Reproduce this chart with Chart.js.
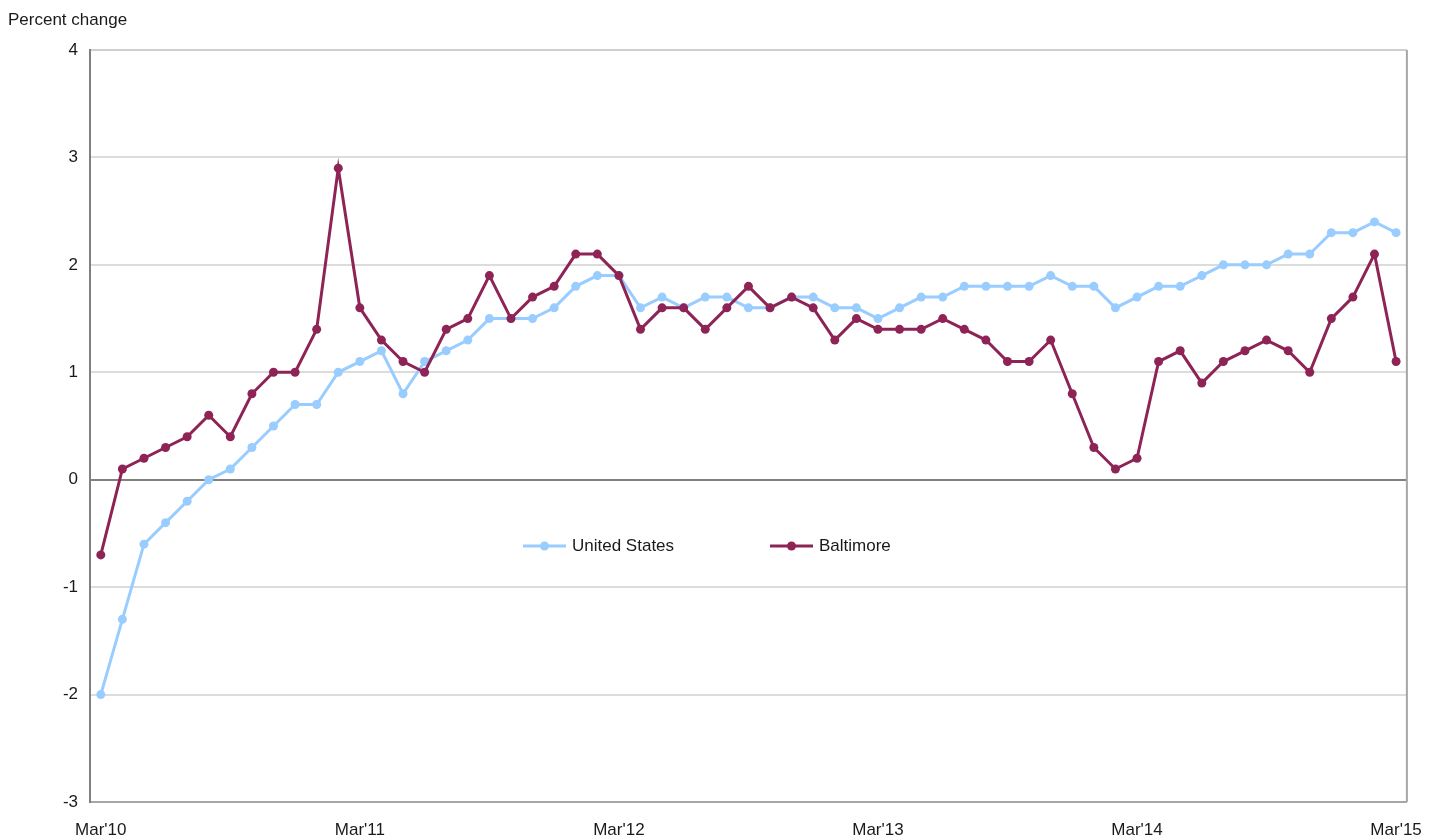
<!DOCTYPE html>
<html lang="en">
<head>
    <meta charset="UTF-8">
    <title>Percent change, United States and Baltimore</title>
    <style>
        body {
            margin: 0;
            background: #ffffff;
        }
        .wrap {
            position: relative;
            width: 1432px;
            height: 839px;
        }
    </style>
</head>
<body>
    <div class="wrap">
        <canvas id="myChart" width="1432" height="839"></canvas>
    </div>

    <script src="https://cdn.jsdelivr.net/npm/chart.js"></script>
    <script>
        // Monthly labels Mar'10 .. Mar'15
        const monthNames = ['Jan', 'Feb', 'Mar', 'Apr', 'May', 'Jun', 'Jul', 'Aug', 'Sep', 'Oct', 'Nov', 'Dec'];
        const months = [];
        for (let i = 0; i <= 60; i++) {
            const m = (2 + i) % 12;
            const y = 10 + Math.floor((2 + i) / 12);
            months.push(monthNames[m] + "'" + y);
        }

        const unitedStates = [
            -2.0, -1.3, -0.6, -0.4, -0.2, 0.0, 0.1, 0.3, 0.5, 0.7, 0.7, 1.0,
            1.1, 1.2, 0.8, 1.1, 1.2, 1.3, 1.5, 1.5, 1.5, 1.6, 1.8, 1.9,
            1.9, 1.6, 1.7, 1.6, 1.7, 1.7, 1.6, 1.6, 1.7, 1.7, 1.6, 1.6,
            1.5, 1.6, 1.7, 1.7, 1.8, 1.8, 1.8, 1.8, 1.9, 1.8, 1.8, 1.6,
            1.7, 1.8, 1.8, 1.9, 2.0, 2.0, 2.0, 2.1, 2.1, 2.3, 2.3, 2.4,
            2.3
        ];

        const baltimore = [
            -0.7, 0.1, 0.2, 0.3, 0.4, 0.6, 0.4, 0.8, 1.0, 1.0, 1.4, 2.9,
            1.6, 1.3, 1.1, 1.0, 1.4, 1.5, 1.9, 1.5, 1.7, 1.8, 2.1, 2.1,
            1.9, 1.4, 1.6, 1.6, 1.4, 1.6, 1.8, 1.6, 1.7, 1.6, 1.3, 1.5,
            1.4, 1.4, 1.4, 1.5, 1.4, 1.3, 1.1, 1.1, 1.3, 0.8, 0.3, 0.1,
            0.2, 1.1, 1.2, 0.9, 1.1, 1.2, 1.3, 1.2, 1.0, 1.5, 1.7, 2.1,
            1.1
        ];

        const yTicks = [-3, -2, -1, 0, 1, 2, 3, 4];

        const usColor = '#99ccff';
        const baltColor = '#8e2456';
        const fontFamily = '"Liberation Sans", Arial, sans-serif';

        // Draws the y title, the plot frame and the in-plot legend
        const extras = {
            id: 'extras',
            afterDraw(chart) {
                const ctx = chart.ctx;
                const area = chart.chartArea;
                ctx.save();

                // right border
                ctx.strokeStyle = '#a6a6a6';
                ctx.lineWidth = 2;
                ctx.beginPath();
                ctx.moveTo(area.right, area.top);
                ctx.lineTo(area.right, area.bottom);
                ctx.stroke();

                ctx.fillStyle = '#1a1a1a';
                ctx.font = '17px ' + fontFamily;
                ctx.textBaseline = 'middle';
                ctx.textAlign = 'left';
                ctx.fillText('Percent change', 8, 20);

                // legend
                const items = [
                    { label: 'United States', color: usColor, x: 523 },
                    { label: 'Baltimore', color: baltColor, x: 770 }
                ];
                const ly = 546;
                items.forEach(it => {
                    ctx.strokeStyle = it.color;
                    ctx.lineWidth = 3;
                    ctx.beginPath();
                    ctx.moveTo(it.x, ly);
                    ctx.lineTo(it.x + 43, ly);
                    ctx.stroke();
                    ctx.fillStyle = it.color;
                    ctx.beginPath();
                    ctx.arc(it.x + 21.5, ly, 4.5, 0, Math.PI * 2);
                    ctx.fill();
                    ctx.fillStyle = '#1a1a1a';
                    ctx.fillText(it.label, it.x + 49, ly);
                });
                ctx.restore();
            }
        };

        const ctx = document.getElementById('myChart').getContext('2d');
        new Chart(ctx, {
            type: 'line',
            data: {
                labels: months,
                datasets: [
                    {
                        label: 'United States',
                        data: unitedStates,
                        order: 1,   // drawn under Baltimore
                        borderColor: usColor,
                        backgroundColor: usColor,
                        borderWidth: 3,
                        pointRadius: 4.5,
                        pointHoverRadius: 4.5,
                        pointBorderWidth: 0,
                        tension: 0
                    },
                    {
                        label: 'Baltimore',
                        data: baltimore,
                        order: 0,
                        borderColor: baltColor,
                        backgroundColor: baltColor,
                        borderWidth: 3,
                        pointRadius: 4.5,
                        pointHoverRadius: 4.5,
                        pointBorderWidth: 0,
                        tension: 0
                    }
                ]
            },
            options: {
                responsive: false,
                animation: false,
                layout: {
                    padding: { left: 0, right: 24, top: 50, bottom: 0 }
                },
                plugins: {
                    legend: { display: false },
                    tooltip: { enabled: false }
                },
                scales: {
                    x: {
                        offset: true,
                        grid: { display: false },
                        border: { display: false },
                        afterFit(scale) { scale.height = 37; },
                        ticks: {
                            autoSkip: false,
                            maxRotation: 0,
                            padding: 10,
                            color: '#1a1a1a',
                            font: { family: fontFamily, size: 17 },
                            callback(value, index) {
                                return index % 12 === 0 ? months[index] : '';
                            }
                        }
                    },
                    y: {
                        min: yTicks[0],
                        max: yTicks[yTicks.length - 1],
                        afterBuildTicks(scale) {
                            scale.ticks = yTicks.map(v => ({ value: v }));
                        },
                        afterFit(scale) { scale.width = 90; },
                        border: { display: true, color: '#808080', width: 2 },
                        grid: {
                            drawTicks: false,
                            lineWidth: 2,
                            color(c) {
                                if (c.tick.value === 0) return '#808080';
                                if (c.tick.value === -3) return '#a6a6a6';
                                if (c.tick.value === 4) return '#cfcfcf';
                                return '#dcdcdc';
                            }
                        },
                        ticks: {
                            padding: 12,
                            color: '#1a1a1a',
                            font: { family: fontFamily, size: 17 }
                        }
                    }
                }
            },
            plugins: [extras]
        });
    </script>
</body>
</html>
